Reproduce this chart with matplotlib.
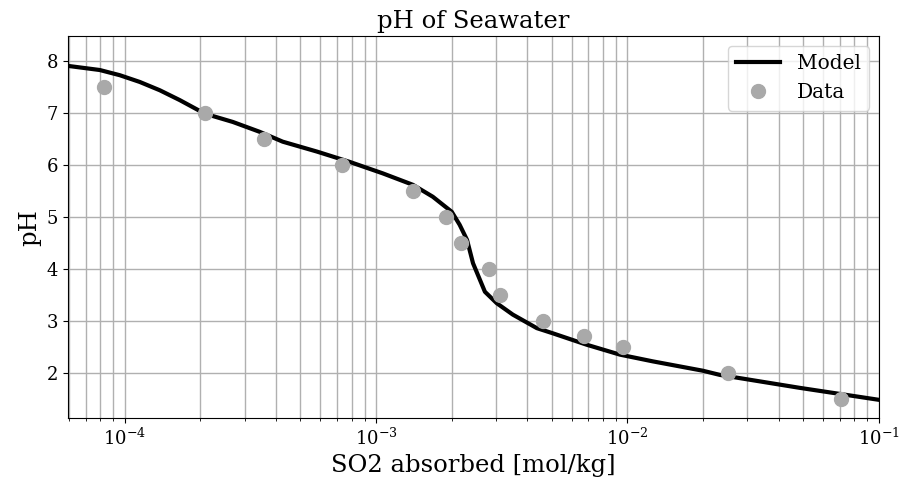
import matplotlib
matplotlib.use("Agg")
import matplotlib.pyplot as plt

plt.rcParams['font.family'] = ['DejaVu Serif']

# model curve
model_so2 = [5.93e-5, 7.95e-5, 9.55e-5, 1.147e-4, 1.378e-4, 1.655e-4, 2.08e-4, 2.69e-4,
             3.44e-4, 4.25e-4, 5.81e-4, 7.86e-4, 1.063e-3, 1.40e-3, 1.681e-3, 2.00e-3,
             2.15e-3, 2.30e-3, 2.43e-3, 2.71e-3, 3.02e-3, 3.50e-3, 4.36e-3, 5.05e-3,
             6.89e-3, 9.33e-3, 1.262e-2, 1.995e-2, 2.33e-2, 4.85e-2, 1.0e-1]
model_ph = [7.91, 7.83, 7.73, 7.60, 7.44, 7.25, 6.99, 6.83,
            6.64, 6.45, 6.26, 6.06, 5.84, 5.62, 5.39, 5.10,
            4.85, 4.56, 4.11, 3.56, 3.34, 3.12, 2.86, 2.76,
            2.54, 2.35, 2.22, 2.04, 1.96, 1.71, 1.48]

# measured points
data_so2 = [8.25e-5, 2.08e-4, 3.57e-4, 7.3e-4, 1.40e-3, 1.89e-3, 2.18e-3,
            2.81e-3, 3.11e-3, 4.61e-3, 6.71e-3, 9.6e-3, 2.51e-2, 7.07e-2]
data_ph = [7.5, 7.0, 6.5, 6.0, 5.5, 5.0, 4.5, 4.0, 3.5, 3.0, 2.7, 2.5, 2.0, 1.5]

fig = plt.figure(figsize=(9.04, 4.9), dpi=100)
ax = fig.add_axes([0.075, 0.147, 0.897, 0.779])

ax.plot(model_so2, model_ph, color='black', linewidth=3, label='Model', zorder=3)
ax.plot(data_so2, data_ph, 'o', color='darkgray', markersize=10, label='Data', zorder=4)

ax.set_xscale('log')
ax.set_xlim(5.93e-5, 1e-1)
ax.set_ylim(1.13, 8.48)
ax.set_yticks([2, 3, 4, 5, 6, 7, 8])
ax.grid(True, which='both', color='#b0b0b0', linewidth=1)
ax.set_axisbelow(True)

ax.tick_params(labelsize=13)
ax.set_xlabel('SO2 absorbed [mol/kg]', fontsize=17.5)
ax.set_ylabel('pH', fontsize=17.5)
ax.set_title('pH of Seawater', fontsize=17.5)
ax.legend(loc='upper right', fontsize=14.5, handlelength=2.2)

fig.savefig('out.png', dpi=100)
